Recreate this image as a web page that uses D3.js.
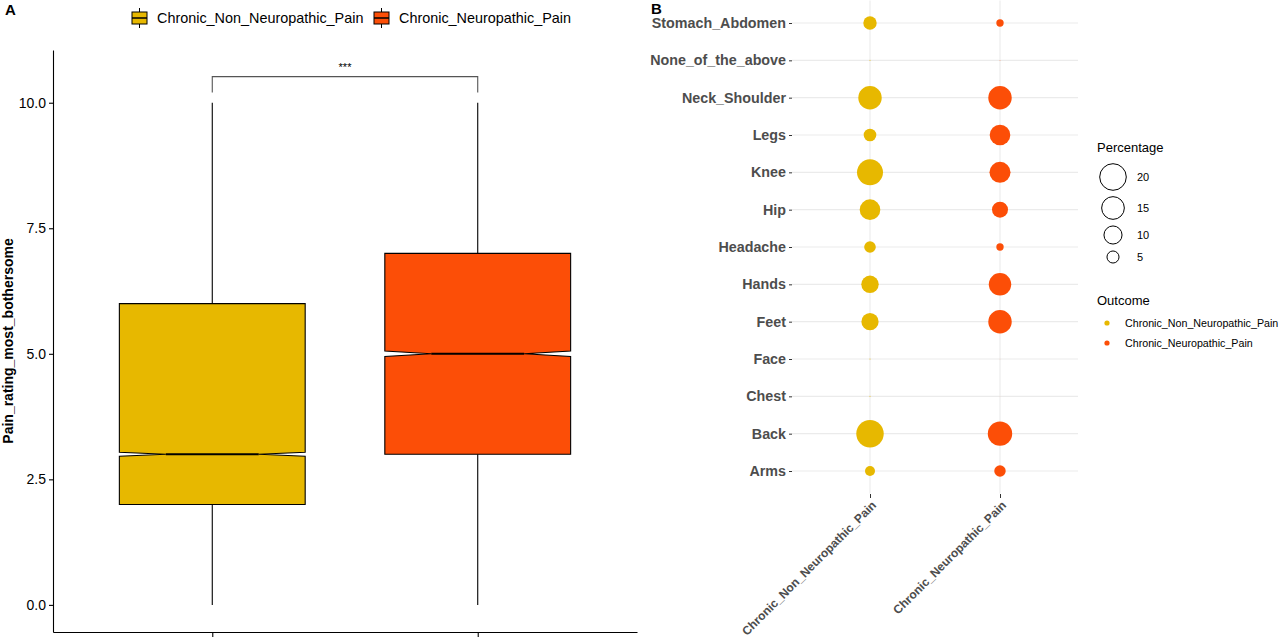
<!DOCTYPE html>
<html>
<head>
<meta charset="utf-8">
<script src="https://cdn.jsdelivr.net/npm/d3@7"></script>
<style>
body { margin: 0; background: #fff; }
text { font-family: "Liberation Sans", Arial, sans-serif; }
</style>
</head>
<body>
<svg id="chart" width="1280" height="638"></svg>
<script>
// panel A: pain rating box plots
var groups = ["Chronic_Non_Neuropathic_Pain", "Chronic_Neuropathic_Pain"];
var groupColors = ["#E7B800", "#FC4E07"];
var boxMin = [0, 0];
var boxQ1 = [2, 3];
var boxMedian = [3, 5];
var boxQ3 = [6, 7];
var boxMax = [10, 10];
var notchHalf = [0.04, 0.055];
var painTicks = [0, 2.5, 5, 7.5, 10];
var sigLabel = "***";
var sigLevel = 10.52;

// panel B: pain sites, percentage per outcome
var sites = ["Arms", "Back", "Chest", "Face", "Feet", "Hands", "Headache", "Hip",
	"Knee", "Legs", "Neck_Shoulder", "None_of_the_above", "Stomach_Abdomen"];
var pctNonNeuro = [3.7, 21.2, 0.3, 0.3, 9.2, 9.4, 4.7, 12.6, 19.2, 5.4, 15.9, 0.3, 6.0];
var pctNeuro = [4.6, 17.1, 0.2, 0.2, 15.9, 14.7, 2.3, 8.1, 13.1, 12.6, 15.9, 0.25, 2.3];
var sizeBreaks = [20, 15, 10, 5];

var svg = d3.select("#chart");

// ---------- panel A ----------
var xA = d3.scalePoint().domain(groups).range([53, 637]).padding(0.6);
var yA = d3.scaleLinear().domain([-0.54, 11.05]).range([632, 50]);
var boxW = xA.step() * 0.7;

var gA = svg.append("g");

var axA = gA.append("g")
	.attr("transform", "translate(53,0)")
	.call(d3.axisLeft(yA).tickValues(painTicks).tickFormat(d3.format(".1f")).tickSize(4).tickSizeOuter(0).tickPadding(3));
axA.selectAll("text").style("font-size", "14px").attr("fill", "#000");
axA.selectAll("line, path").attr("stroke", "#000").attr("stroke-width", 1.1);

var axAx = gA.append("g")
	.attr("transform", "translate(0,632)")
	.call(d3.axisBottom(xA).tickSize(5).tickSizeOuter(0).tickFormat(""));
axAx.selectAll("line, path").attr("stroke", "#000").attr("stroke-width", 1.1);

gA.append("text")
	.attr("transform", "translate(13,341) rotate(-90)")
	.attr("text-anchor", "middle")
	.style("font-size", "14px").style("font-weight", "bold")
	.text("Pain_rating_most_bothersome");

groups.forEach(function(g, i) {
	var cx = xA(g);
	var x0 = cx - boxW / 2, x1 = cx + boxW / 2;
	var nx0 = cx - boxW / 4, nx1 = cx + boxW / 4;
	// whiskers
	gA.append("line").attr("x1", cx).attr("x2", cx)
		.attr("y1", yA(boxMax[i])).attr("y2", yA(boxQ3[i]))
		.attr("stroke", "#000").attr("stroke-width", 1.1);
	gA.append("line").attr("x1", cx).attr("x2", cx)
		.attr("y1", yA(boxQ1[i])).attr("y2", yA(boxMin[i]))
		.attr("stroke", "#000").attr("stroke-width", 1.1);
	var pts = [
		[x0, yA(boxQ3[i])],
		[x0, yA(boxMedian[i] + notchHalf[i])],
		[nx0, yA(boxMedian[i])],
		[x0, yA(boxMedian[i] - notchHalf[i])],
		[x0, yA(boxQ1[i])],
		[x1, yA(boxQ1[i])],
		[x1, yA(boxMedian[i] - notchHalf[i])],
		[nx1, yA(boxMedian[i])],
		[x1, yA(boxMedian[i] + notchHalf[i])],
		[x1, yA(boxQ3[i])]
	];
	gA.append("path")
		.attr("d", d3.line()(pts) + "Z")
		.attr("fill", groupColors[i])
		.attr("stroke", "#000").attr("stroke-width", 1.1);
	gA.append("line")
		.attr("x1", nx0).attr("x2", nx1)
		.attr("y1", yA(boxMedian[i])).attr("y2", yA(boxMedian[i]))
		.attr("stroke", "#000").attr("stroke-width", 2);
});

// significance bracket
var by = yA(sigLevel);
gA.append("path")
	.attr("d", "M" + xA(groups[0]) + "," + (by + 16) + "V" + by + "H" + xA(groups[1]) + "V" + (by + 16))
	.attr("fill", "none").attr("stroke", "#555").attr("stroke-width", 1.1);
gA.append("text")
	.attr("x", (xA(groups[0]) + xA(groups[1])) / 2).attr("y", by - 6)
	.attr("text-anchor", "middle").style("font-size", "11px")
	.text(sigLabel);

// top legend
var legA = gA.append("g");
var legX = [131, 373];
groups.forEach(function(g, i) {
	var k = legA.append("g").attr("transform", "translate(" + legX[i] + ",18)");
	k.append("line").attr("x1", 8.5).attr("x2", 8.5).attr("y1", -10).attr("y2", 10)
		.attr("stroke", "#000").attr("stroke-width", 1);
	k.append("rect").attr("x", 1).attr("y", -6).attr("width", 15).attr("height", 12)
		.attr("fill", groupColors[i]).attr("stroke", "#000").attr("stroke-width", 1);
	k.append("line").attr("x1", 1).attr("x2", 16).attr("y1", 0).attr("y2", 0)
		.attr("stroke", "#000").attr("stroke-width", 1.5);
	k.append("text").attr("x", 26).attr("y", 0).attr("dy", "0.36em")
		.style("font-size", "14.4px").text(g);
});

gA.append("text").attr("x", 5).attr("y", 15)
	.style("font-size", "15px").style("font-weight", "bold").text("A");

// ---------- panel B ----------
var xB = d3.scalePoint().domain(groups).range([792, 1078]).padding(0.6);
var yB = d3.scalePoint().domain(sites).range([493.4, 0.6]).padding(0.6);
var rB = d3.scaleSqrt().domain([0.2, 20]).range([0.2, 13.3]);

var gB = svg.append("g");

gB.selectAll(".hgrid").data(sites).enter().append("line")
	.attr("x1", 792).attr("x2", 1078)
	.attr("y1", function(d) { return yB(d); })
	.attr("y2", function(d) { return yB(d); })
	.attr("stroke", "#EBEBEB").attr("stroke-width", 1.1);
gB.selectAll(".vgrid").data(groups).enter().append("line")
	.attr("x1", function(d) { return xB(d); })
	.attr("x2", function(d) { return xB(d); })
	.attr("y1", 0.6).attr("y2", 493.4)
	.attr("stroke", "#EBEBEB").attr("stroke-width", 1.1);

var axBy = gB.append("g")
	.attr("transform", "translate(792,0)")
	.call(d3.axisLeft(yB).tickSize(3).tickPadding(3));
axBy.select(".domain").remove();
axBy.selectAll("line").attr("stroke", "#333");
axBy.selectAll("text").style("font-size", "14.3px").style("font-weight", "bold").attr("fill", "#4D4D4D");

var axBx = gB.append("g")
	.attr("transform", "translate(0,494)")
	.call(d3.axisBottom(xB).tickSize(4).tickFormat(""));
axBx.select(".domain").remove();
axBx.selectAll("line").attr("stroke", "#333");

gB.selectAll(".xlab").data(groups).enter().append("text")
	.attr("transform", function(d) { return "translate(" + (xB(d) + 1) + ",500) rotate(-45)"; })
	.attr("text-anchor", "end").attr("dy", "0.71em")
	.style("font-size", "12px").style("font-weight", "bold").attr("fill", "#4D4D4D")
	.text(function(d) { return d; });

[pctNonNeuro, pctNeuro].forEach(function(vals, gi) {
	gB.selectAll(".dot" + gi).data(vals).enter().append("circle")
		.attr("cx", xB(groups[gi]))
		.attr("cy", function(d, i) { return yB(sites[i]); })
		.attr("r", function(d) { return rB(d); })
		.attr("fill", groupColors[gi]);
});

// legend B
var legB = gB.append("g");
legB.append("text").attr("x", 1097).attr("y", 152).style("font-size", "13px").text("Percentage");
var sizeY = [177, 208, 235, 257];
sizeBreaks.forEach(function(v, i) {
	legB.append("circle").attr("cx", 1113).attr("cy", sizeY[i]).attr("r", rB(v))
		.attr("fill", "none").attr("stroke", "#000").attr("stroke-width", 1);
	legB.append("text").attr("x", 1137).attr("y", sizeY[i]).attr("dy", "0.36em")
		.style("font-size", "11px").text(v);
});
legB.append("text").attr("x", 1097).attr("y", 305).style("font-size", "13px").text("Outcome");
var outY = [323, 343];
groups.forEach(function(g, i) {
	legB.append("circle").attr("cx", 1107).attr("cy", outY[i]).attr("r", 2.6)
		.attr("fill", groupColors[i]);
	legB.append("text").attr("x", 1125).attr("y", outY[i]).attr("dy", "0.36em")
		.style("font-size", "10.7px").text(g);
});

gB.append("text").attr("x", 651).attr("y", 14)
	.style("font-size", "15px").style("font-weight", "bold").text("B");
</script>
</body>
</html>
